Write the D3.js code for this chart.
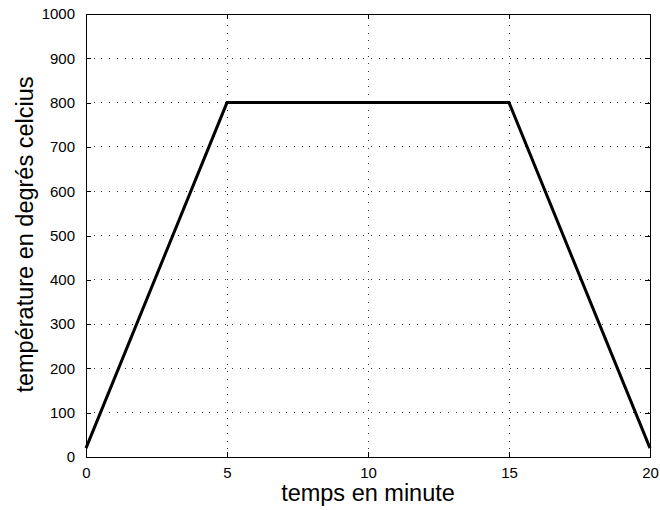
<!DOCTYPE html>
<html><head><meta charset="utf-8">
<script src="https://cdn.jsdelivr.net/npm/d3@7"></script>
<style>body{margin:0;background:#fff}svg{display:block}text{font-family:"Liberation Sans",Arial,sans-serif}</style>
</head><body>
<script>
const timeMin = [0, 5, 15, 20];
const tempC = [20, 800, 800, 20];
const xTicks = [0, 5, 10, 15, 20];
const yTicks = [0, 100, 200, 300, 400, 500, 600, 700, 800, 900, 1000];
const xLabel = "temps en minute";
const yLabel = "température en degrés celcius";

const W = 660, H = 510;
const m = {left: 86, right: 10, top: 14, bottom: 53};
const svg = d3.select("body").append("svg").attr("width", W).attr("height", H);
const x = d3.scaleLinear().domain([0, 20]).range([m.left, W - m.right]);
const y = d3.scaleLinear().domain([0, 1000]).range([H - m.bottom, m.top]);

// grid
const g = svg.append("g");
g.selectAll(".gx").data(xTicks.slice(1, -1)).join("line")
  .attr("x1", d => x(d)).attr("x2", d => x(d)).attr("y1", y(0)).attr("y2", y(1000))
  .attr("stroke", "#333").attr("stroke-width", 1).attr("stroke-dasharray", "1,6.7").attr("shape-rendering", "crispEdges");
g.selectAll(".gy").data(yTicks.slice(1, -1)).join("line")
  .attr("y1", d => y(d)).attr("y2", d => y(d)).attr("x1", x(0)).attr("x2", x(20))
  .attr("stroke", "#333").attr("stroke-width", 1).attr("stroke-dasharray", "1,6.7").attr("shape-rendering", "crispEdges");

// axes
const fmt = d3.format("d");
const xAxis = d3.axisBottom(x).tickValues(xTicks).tickFormat(fmt).tickSizeInner(-5).tickSizeOuter(0).tickPadding(10);
const yAxis = d3.axisLeft(y).tickValues(yTicks).tickFormat(fmt).tickSizeInner(-5).tickSizeOuter(0).tickPadding(11);
const xa = svg.append("g").attr("transform", `translate(0,${y(0)})`).call(xAxis);
const ya = svg.append("g").attr("transform", `translate(${x(0)},0)`).call(yAxis);
const xt = svg.append("g").attr("transform", `translate(0,${y(1000)})`).call(d3.axisTop(x).tickValues(xTicks).tickSizeInner(-5).tickSizeOuter(0).tickFormat(""));
const yr = svg.append("g").attr("transform", `translate(${x(20)},0)`).call(d3.axisRight(y).tickValues(yTicks).tickSizeInner(-5).tickSizeOuter(0).tickFormat(""));
[xa, ya, xt, yr].forEach(a => {
  a.selectAll("path,line").attr("stroke", "#000").attr("shape-rendering", "crispEdges");
  a.selectAll("text").attr("font-size", 15).attr("fill", "#000").attr("font-family", '"Liberation Sans",Arial,sans-serif');
});

// line
svg.append("path").datum(timeMin.map((t, i) => [t, tempC[i]]))
  .attr("d", d3.line().x(d => x(d[0])).y(d => y(d[1])))
  .attr("fill", "none").attr("stroke", "#000").attr("stroke-width", 3).attr("stroke-linejoin", "miter");

// labels
svg.append("text").attr("x", x(10)).attr("y", 501).attr("text-anchor", "middle")
  .attr("font-size", 23.5).text(xLabel);
svg.append("text").attr("transform", `translate(33,${(y(0) + y(1000)) / 2 - 1}) rotate(-90)`)
  .attr("text-anchor", "middle").attr("font-size", 23.5).text(yLabel);
</script>
</body></html>
